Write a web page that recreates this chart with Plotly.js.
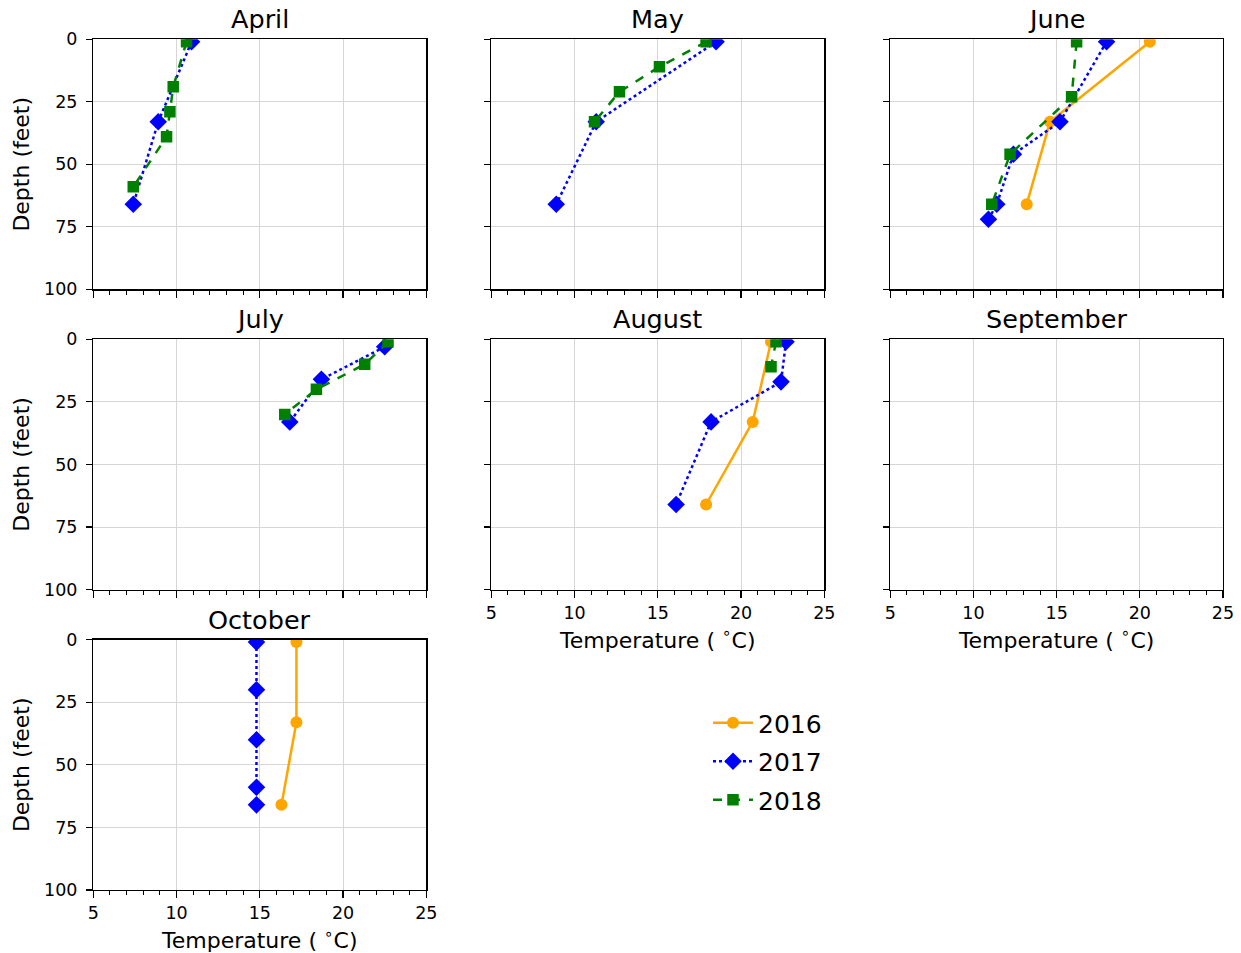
<!DOCTYPE html>
<html>
<head>
<meta charset="utf-8">
<script src="https://cdn.plot.ly/plotly-3.0.1.min.js"></script>
<style>html,body{margin:0;padding:0;background:#fff;}#chart{width:1241px;height:953px;}</style>
</head>
<body>
<div id="chart"></div>
<script>
// ---- data (depth in feet, temperature in °C) ----
const months = ['April', 'May', 'June', 'July', 'August', 'September', 'October'];
const years = ['2016', '2017', '2018'];
const yTickVals = [0, 25, 50, 75, 100];
const xTickVals = [5, 10, 15, 20, 25];

const aprilDepth2017 = [1, 33, 66];
const aprilTemp2017  = [10.9, 8.9, 7.4];
const aprilDepth2018 = [1, 19, 29, 39, 59];
const aprilTemp2018  = [10.6, 9.8, 9.6, 9.4, 7.4];

const mayDepth2017 = [1, 33, 66];
const mayTemp2017  = [18.5, 11.3, 8.9];
const mayDepth2018 = [1, 11, 21, 33];
const mayTemp2018  = [17.9, 15.1, 12.7, 11.2];

const juneDepth2016 = [1, 33, 66];
const juneTemp2016  = [20.6, 14.6, 13.2];
const juneDepth2017 = [1, 33, 46, 66, 72];
const juneTemp2017  = [18.0, 15.2, 12.4, 11.4, 10.9];
const juneDepth2018 = [1, 23, 46, 66];
const juneTemp2018  = [16.2, 15.9, 12.2, 11.1];

const julyDepth2017 = [3, 16, 33];
const julyTemp2017  = [22.5, 18.7, 16.8];
const julyDepth2018 = [1, 10, 20, 30];
const julyTemp2018  = [22.7, 21.3, 18.4, 16.5];

const augustDepth2016 = [1, 33, 66];
const augustTemp2016  = [21.8, 20.7, 17.9];
const augustDepth2017 = [1, 17, 33, 66];
const augustTemp2017  = [22.7, 22.4, 18.2, 16.1];
const augustDepth2018 = [1, 11];
const augustTemp2018  = [22.1, 21.8];

const octoberDepth2016 = [1, 33, 66];
const octoberTemp2016  = [17.2, 17.2, 16.3];
const octoberDepth2017 = [1, 20, 40, 59, 66];
const octoberTemp2017  = [14.8, 14.8, 14.8, 14.8, 14.8];

// ---- styles ----
const yearStyle = {
  '2016': {color: '#FFA500', dash: 'solid', symbol: 'circle', size: 12, rank: 1},
  '2017': {color: '#0000FF', dash: 'dot', symbol: 'diamond', size: 13.5, rank: 2},
  '2018': {color: '#008000', dash: 'dash', symbol: 'square', size: 11.5, rank: 3}
};

// series: [monthIndex, year, temps, depths]
const series = [
  [2, '2016', juneTemp2016, juneDepth2016],
  [0, '2017', aprilTemp2017, aprilDepth2017],
  [0, '2018', aprilTemp2018, aprilDepth2018],
  [1, '2017', mayTemp2017, mayDepth2017],
  [1, '2018', mayTemp2018, mayDepth2018],
  [2, '2017', juneTemp2017, juneDepth2017],
  [2, '2018', juneTemp2018, juneDepth2018],
  [3, '2017', julyTemp2017, julyDepth2017],
  [3, '2018', julyTemp2018, julyDepth2018],
  [4, '2016', augustTemp2016, augustDepth2016],
  [4, '2017', augustTemp2017, augustDepth2017],
  [4, '2018', augustTemp2018, augustDepth2018],
  [6, '2016', octoberTemp2016, octoberDepth2016],
  [6, '2017', octoberTemp2017, octoberDepth2017]
];

const W = 1241, H = 953;
const colPx = [[93.3, 426.3], [491.3, 824.3], [890.3, 1223.0]];
const rowPx = [[39.3, 289.3], [339.3, 589.6], [639.6, 890.0]];
const pos = [[0,0],[0,1],[0,2],[1,0],[1,1],[1,2],[2,0]]; // [row,col] per month
const xLabelled = [false, false, false, false, true, true, true];

const FONT = 'DejaVu Sans, Liberation Sans, sans-serif';
const traces = [];
const shown = {};
series.forEach(([m, yr, t, d]) => {
  const st = yearStyle[yr];
  const id = m === 0 ? '' : String(m + 1);
  const show = !shown[yr];
  shown[yr] = true;
  traces.push({
    type: 'scatter', mode: 'lines+markers',
    x: t, y: d, name: yr, legendgroup: yr, showlegend: show, legendrank: st.rank,
    xaxis: 'x' + id, yaxis: 'y' + id,
    line: {color: st.color, width: 2.5, dash: st.dash},
    marker: {color: st.color, symbol: st.symbol, size: st.size, line: {width: 0}}
  });
});
// empty trace for September so the axes exist
traces.push({type: 'scatter', mode: 'markers', x: [], y: [], xaxis: 'x6', yaxis: 'y6', showlegend: false, hoverinfo: 'skip'});

const layout = {
  width: W, height: H,
  margin: {l: 0, r: 0, t: 0, b: 0},
  paper_bgcolor: '#ffffff', plot_bgcolor: '#ffffff',
  font: {family: FONT, color: '#000', size: 17},
  showlegend: true,
  legend: {
    x: 708 / W, y: 1 - 700 / H, xanchor: 'left', yanchor: 'top',
    font: {family: FONT, size: 25, color: '#000'},
    bgcolor: 'rgba(0,0,0,0)', borderwidth: 0,
    traceorder: 'grouped', tracegroupgap: 3, itemwidth: 40
  },
  annotations: []
};

months.forEach((name, m) => {
  const [r, c] = pos[m];
  const id = m === 0 ? '' : String(m + 1);
  const xd = [colPx[c][0] / W, colPx[c][1] / W];
  const yd = [1 - rowPx[r][1] / H, 1 - rowPx[r][0] / H];
  const xa = {
    domain: xd, range: [5, 25], anchor: 'y' + id,
    tickvals: xTickVals, ticks: 'outside', ticklen: 7, tickwidth: 1.2, tickcolor: '#000',
    showticklabels: xLabelled[m], tickfont: {size: 17.5, family: FONT},
    showgrid: true, gridcolor: '#d6d6d6', gridwidth: 1,
    showline: true, linecolor: '#000', linewidth: 1.3, mirror: true,
    zeroline: false, fixedrange: true,
    minor: {dtick: 1, tick0: 5, ticks: 'outside', ticklen: 4, tickwidth: 1, tickcolor: '#000', showgrid: false}
  };
  if (xLabelled[m]) {
    xa.title = {text: 'Temperature ( <sup>∘</sup>C)', font: {size: 22, family: FONT}, standoff: 10};
  }
  const ya = {
    domain: yd, range: [100, 0], anchor: 'x' + id,
    tickvals: yTickVals, ticks: 'outside', ticklen: 6, tickwidth: 1.2, tickcolor: '#000',
    showticklabels: c === 0, tickfont: {size: 17.5, family: FONT}, ticklabelstandoff: 5,
    showgrid: true, gridcolor: '#d6d6d6', gridwidth: 1,
    showline: true, linecolor: '#000', linewidth: 1.3, mirror: true,
    zeroline: false, fixedrange: true
  };
  if (c === 0) {
    ya.title = {text: 'Depth (feet)', font: {size: 22, family: FONT}, standoff: 8};
  }
  layout['xaxis' + id] = xa;
  layout['yaxis' + id] = ya;
  layout.annotations.push({
    text: name, xref: 'paper', yref: 'paper',
    x: (xd[0] + xd[1]) / 2, y: yd[1] + 1 / H * 3,
    xanchor: 'center', yanchor: 'bottom', showarrow: false,
    font: {size: 25.5, family: FONT, color: '#000'}
  });
});

Plotly.newPlot('chart', traces, layout, {displayModeBar: false, staticPlot: true});
</script>
</body>
</html>
